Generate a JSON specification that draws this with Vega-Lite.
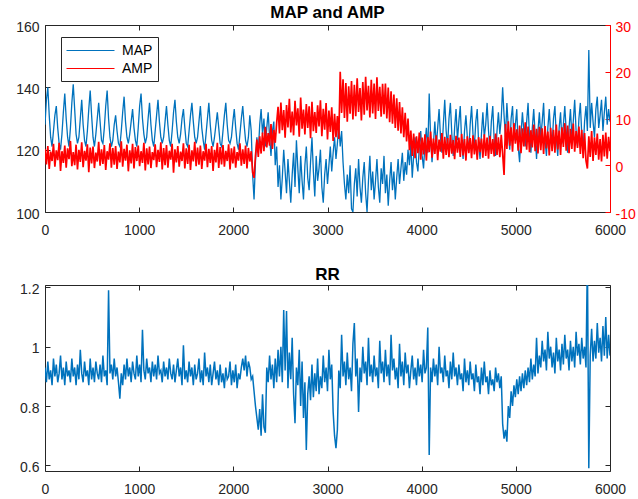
{
"$schema":"https://vega.github.io/schema/vega-lite/v6.json",
"padding":{"left":15,"top":4,"right":0,"bottom":0},
"spacing":73,
"bounds":"flush",
"datasets":{"d":[
{"t":0,"m":128,"a":3.5,"r":0.93},{"t":15,"m":136,"a":0.2,"r":0.88},{"t":30,"m":140,"a":4.1,"r":0.95},{"t":45,"m":131,"a":-0.8,"r":0.89},{"t":60,"m":124,"a":2.9,"r":0.92},{"t":75,"m":121,"a":0.9,"r":0.87},{"t":90,"m":126,"a":4.6,"r":0.96},{"t":105,"m":131,"a":-0.3,"r":0.90},{"t":120,"m":134,"a":3.2,"r":0.94},{"t":135,"m":127,"a":1.1,"r":0.88},
{"t":150,"m":122,"a":4.8,"r":0.91},{"t":165,"m":120,"a":-1.2,"r":0.97},{"t":180,"m":125,"a":3.0,"r":0.89},{"t":195,"m":132,"a":0.5,"r":0.93},{"t":210,"m":138,"a":4.2,"r":0.87},{"t":225,"m":130,"a":-0.5,"r":0.95},{"t":240,"m":124,"a":3.6,"r":0.90},{"t":255,"m":121,"a":1.3,"r":0.92},{"t":270,"m":127,"a":5.2,"r":0.88},{"t":285,"m":135,"a":-0.2,"r":0.96},
{"t":300,"m":141,"a":2.8,"r":0.90},{"t":315,"m":133,"a":0.0,"r":0.93},{"t":330,"m":125,"a":4.4,"r":0.87},{"t":345,"m":122,"a":-0.9,"r":0.94},{"t":360,"m":124,"a":3.3,"r":0.89},{"t":375,"m":130,"a":0.7,"r":0.99},{"t":390,"m":136,"a":4.9,"r":0.91},{"t":405,"m":128,"a":-0.4,"r":0.88},{"t":420,"m":123,"a":3.1,"r":0.95},{"t":435,"m":121,"a":1.0,"r":0.90},
{"t":450,"m":126,"a":4.5,"r":0.92},{"t":465,"m":133,"a":-1.5,"r":0.87},{"t":480,"m":139,"a":3.8,"r":0.96},{"t":495,"m":131,"a":0.4,"r":0.89},{"t":510,"m":124,"a":4.0,"r":0.93},{"t":525,"m":121,"a":-0.6,"r":0.88},{"t":540,"m":125,"a":2.7,"r":0.95},{"t":555,"m":130,"a":0.8,"r":0.91},{"t":570,"m":135,"a":5.0,"r":0.89},{"t":585,"m":129,"a":-0.1,"r":0.94},
{"t":600,"m":123,"a":3.4,"r":0.88},{"t":615,"m":122,"a":0.3,"r":0.97},{"t":630,"m":127,"a":4.3,"r":0.90},{"t":645,"m":134,"a":-1.0,"r":0.92},{"t":660,"m":139,"a":3.0,"r":0.87},{"t":675,"m":130,"a":1.2,"r":1.19},{"t":690,"m":124,"a":4.7,"r":0.91},{"t":705,"m":121,"a":-0.5,"r":0.94},{"t":720,"m":123,"a":3.7,"r":0.89},{"t":735,"m":128,"a":0.1,"r":0.96},
{"t":750,"m":131,"a":4.1,"r":0.90},{"t":765,"m":126,"a":-0.8,"r":0.93},{"t":780,"m":122,"a":2.9,"r":0.88},{"t":795,"m":121,"a":0.6,"r":0.825},{"t":810,"m":126,"a":5.1,"r":0.91},{"t":825,"m":132,"a":-0.3,"r":0.87},{"t":840,"m":137,"a":3.5,"r":0.94},{"t":855,"m":129,"a":1.0,"r":0.89},{"t":870,"m":124,"a":4.4,"r":0.96},{"t":885,"m":122,"a":-1.3,"r":0.90},
{"t":900,"m":125,"a":3.2,"r":0.93},{"t":915,"m":129,"a":0.4,"r":0.88},{"t":930,"m":133,"a":4.6,"r":0.95},{"t":945,"m":127,"a":-0.7,"r":0.91},{"t":960,"m":123,"a":3.9,"r":0.89},{"t":975,"m":121,"a":0.9,"r":0.97},{"t":990,"m":127,"a":4.2,"r":0.90},{"t":1005,"m":134,"a":-0.2,"r":0.94},{"t":1020,"m":138,"a":3.0,"r":0.88},{"t":1035,"m":130,"a":0.5,"r":1.057},
{"t":1050,"m":125,"a":4.8,"r":0.92},{"t":1065,"m":122,"a":-1.1,"r":0.89},{"t":1080,"m":124,"a":3.6,"r":0.96},{"t":1095,"m":130,"a":0.2,"r":0.91},{"t":1110,"m":135,"a":4.0,"r":0.93},{"t":1125,"m":128,"a":-0.6,"r":0.88},{"t":1140,"m":123,"a":2.8,"r":0.95},{"t":1155,"m":121,"a":1.1,"r":0.90},{"t":1170,"m":126,"a":4.5,"r":0.94},{"t":1185,"m":131,"a":-0.4,"r":0.89},
{"t":1200,"m":136,"a":3.3,"r":0.97},{"t":1215,"m":129,"a":0.7,"r":0.91},{"t":1230,"m":124,"a":4.9,"r":0.92},{"t":1245,"m":122,"a":-0.9,"r":0.88},{"t":1260,"m":124,"a":3.7,"r":0.95},{"t":1275,"m":129,"a":0.0,"r":0.90},{"t":1290,"m":134,"a":4.3,"r":0.93},{"t":1305,"m":128,"a":-0.5,"r":0.89},{"t":1320,"m":123,"a":3.1,"r":0.96},{"t":1335,"m":121,"a":1.2,"r":0.91},
{"t":1350,"m":126,"a":4.6,"r":0.89},{"t":1365,"m":132,"a":-1.6,"r":0.94},{"t":1380,"m":136,"a":3.4,"r":0.88},{"t":1395,"m":129,"a":0.6,"r":0.92},{"t":1410,"m":124,"a":4.1,"r":0.96},{"t":1425,"m":122,"a":-0.3,"r":0.90},{"t":1440,"m":125,"a":2.9,"r":0.93},{"t":1455,"m":130,"a":0.9,"r":0.87},{"t":1470,"m":133,"a":4.7,"r":1.005},{"t":1485,"m":127,"a":-0.7,"r":0.89},
{"t":1500,"m":122,"a":3.6,"r":0.92},{"t":1515,"m":121,"a":0.3,"r":0.88},{"t":1530,"m":126,"a":4.4,"r":0.95},{"t":1545,"m":131,"a":-1.0,"r":0.90},{"t":1560,"m":135,"a":3.2,"r":0.93},{"t":1575,"m":129,"a":0.8,"r":0.87},{"t":1590,"m":124,"a":5.0,"r":0.94},{"t":1605,"m":122,"a":-0.2,"r":0.89},{"t":1620,"m":124,"a":3.8,"r":0.91},{"t":1635,"m":129,"a":0.1,"r":0.96},
{"t":1650,"m":134,"a":4.2,"r":0.88},{"t":1665,"m":127,"a":-0.8,"r":0.92},{"t":1680,"m":123,"a":3.0,"r":0.87},{"t":1695,"m":120,"a":1.0,"r":0.98},{"t":1710,"m":125,"a":4.6,"r":0.90},{"t":1725,"m":130,"a":-0.4,"r":0.93},{"t":1740,"m":135,"a":3.5,"r":0.88},{"t":1755,"m":128,"a":0.5,"r":0.94},{"t":1770,"m":123,"a":4.1,"r":0.87},{"t":1785,"m":121,"a":-1.2,"r":0.91},
{"t":1800,"m":124,"a":3.3,"r":0.95},{"t":1815,"m":128,"a":0.6,"r":0.89},{"t":1830,"m":132,"a":4.8,"r":0.92},{"t":1845,"m":127,"a":-0.6,"r":0.87},{"t":1860,"m":122,"a":3.9,"r":0.94},{"t":1875,"m":121,"a":0.2,"r":0.88},{"t":1890,"m":126,"a":4.3,"r":0.91},{"t":1905,"m":131,"a":-0.3,"r":0.86},{"t":1920,"m":135,"a":3.1,"r":0.93},{"t":1935,"m":128,"a":0.9,"r":0.89},
{"t":1950,"m":123,"a":4.5,"r":0.90},{"t":1965,"m":122,"a":-0.9,"r":0.95},{"t":1980,"m":124,"a":3.6,"r":0.87},{"t":1995,"m":129,"a":0.4,"r":0.92},{"t":2010,"m":133,"a":4.0,"r":0.88},{"t":2025,"m":127,"a":-0.5,"r":0.94},{"t":2040,"m":122,"a":2.8,"r":0.86},{"t":2055,"m":120,"a":1.0,"r":0.91},{"t":2070,"m":125,"a":4.7,"r":0.89},{"t":2085,"m":130,"a":-0.1,"r":0.93},
{"t":2100,"m":134,"a":3.4,"r":0.96},{"t":2115,"m":128,"a":0.3,"r":0.92},{"t":2130,"m":123,"a":4.2,"r":0.97},{"t":2145,"m":121,"a":-0.7,"r":0.90},{"t":2160,"m":124,"a":3.7,"r":0.95},{"t":2175,"m":131,"a":0.8,"r":0.93},{"t":2190,"m":126,"a":3.0,"r":0.89},{"t":2205,"m":112,"a":-1.5,"r":0.90},{"t":2220,"m":104,"a":-2.7,"r":0.85},{"t":2235,"m":116,"a":2.0,"r":0.80},
{"t":2250,"m":124,"a":5.5,"r":0.76},{"t":2265,"m":119,"a":1.8,"r":0.72},{"t":2280,"m":128,"a":6.2,"r":0.79},{"t":2295,"m":133,"a":2.5,"r":0.70},{"t":2310,"m":125,"a":7.0,"r":0.84},{"t":2325,"m":130,"a":3.0,"r":0.73},{"t":2340,"m":121,"a":8.2,"r":0.71},{"t":2355,"m":127,"a":3.8,"r":0.93},{"t":2370,"m":132,"a":6.9,"r":0.88},{"t":2385,"m":124,"a":4.2,"r":0.97},
{"t":2400,"m":118,"a":8.8,"r":0.89},{"t":2415,"m":126,"a":3.5,"r":0.94},{"t":2430,"m":129,"a":7.6,"r":0.86},{"t":2445,"m":115,"a":4.8,"r":0.96},{"t":2460,"m":121,"a":9.0,"r":0.88},{"t":2475,"m":108,"a":12.5,"r":0.99},{"t":2490,"m":115,"a":6.8,"r":0.90},{"t":2505,"m":104,"a":13.4,"r":1.00},{"t":2520,"m":111,"a":7.5,"r":0.88},{"t":2535,"m":120,"a":11.8,"r":1.124},
{"t":2550,"m":113,"a":5.9,"r":0.92},{"t":2565,"m":106,"a":12.9,"r":1.12},{"t":2580,"m":117,"a":8.1,"r":0.86},{"t":2595,"m":110,"a":14.2,"r":0.98},{"t":2610,"m":103,"a":7.0,"r":0.89},{"t":2625,"m":112,"a":11.5,"r":1.03},{"t":2640,"m":119,"a":6.4,"r":0.84},{"t":2655,"m":108,"a":13.8,"r":0.742},{"t":2670,"m":123,"a":8.5,"r":0.93},{"t":2685,"m":114,"a":12.2,"r":0.87},
{"t":2700,"m":106,"a":6.1,"r":0.99},{"t":2715,"m":118,"a":14.5,"r":0.80},{"t":2730,"m":110,"a":7.8,"r":0.95},{"t":2745,"m":104,"a":11.9,"r":0.76},{"t":2760,"m":115,"a":6.6,"r":0.88},{"t":2775,"m":121,"a":13.1,"r":0.652},{"t":2790,"m":111,"a":8.0,"r":0.84},{"t":2805,"m":107,"a":12.6,"r":0.90},{"t":2820,"m":116,"a":5.8,"r":0.82},{"t":2835,"m":124,"a":13.6,"r":0.94},
{"t":2850,"m":113,"a":7.3,"r":0.83},{"t":2865,"m":105,"a":11.4,"r":0.91},{"t":2880,"m":118,"a":6.9,"r":0.85},{"t":2895,"m":110,"a":12.8,"r":0.96},{"t":2910,"m":114,"a":8.3,"r":0.84},{"t":2925,"m":120,"a":13.9,"r":0.90},{"t":2940,"m":108,"a":6.2,"r":0.86},{"t":2955,"m":103,"a":12.1,"r":0.97},{"t":2970,"m":112,"a":7.6,"r":0.88},{"t":2985,"m":117,"a":13.3,"r":0.93},
{"t":3000,"m":109,"a":5.5,"r":0.85},{"t":3015,"m":115,"a":11.7,"r":0.99},{"t":3030,"m":121,"a":7.1,"r":0.89},{"t":3045,"m":113,"a":12.4,"r":0.94},{"t":3060,"m":119,"a":5.2,"r":0.78},{"t":3075,"m":124,"a":11.0,"r":0.70},{"t":3090,"m":117,"a":6.0,"r":0.658},{"t":3105,"m":122,"a":10.5,"r":0.72},{"t":3120,"m":128,"a":5.6,"r":0.92},{"t":3135,"m":121,"a":20.0,"r":0.86},
{"t":3150,"m":126,"a":11.2,"r":1.04},{"t":3165,"m":116,"a":18.4,"r":0.90},{"t":3180,"m":109,"a":10.1,"r":0.95},{"t":3195,"m":104,"a":17.6,"r":0.87},{"t":3210,"m":112,"a":9.3,"r":0.98},{"t":3225,"m":106,"a":16.9,"r":0.89},{"t":3240,"m":115,"a":11.0,"r":0.93},{"t":3255,"m":101,"a":18.0,"r":0.85},{"t":3270,"m":100,"a":9.8,"r":1.01},{"t":3285,"m":109,"a":17.2,"r":1.08},
{"t":3300,"m":114,"a":10.5,"r":0.90},{"t":3315,"m":105,"a":18.6,"r":0.96},{"t":3330,"m":117,"a":11.4,"r":0.78},{"t":3345,"m":108,"a":16.5,"r":0.93},{"t":3360,"m":103,"a":9.6,"r":0.88},{"t":3375,"m":111,"a":17.8,"r":1.00},{"t":3390,"m":116,"a":10.8,"r":0.91},{"t":3405,"m":106,"a":18.9,"r":0.95},{"t":3420,"m":100,"a":11.7,"r":0.87},{"t":3435,"m":110,"a":17.0,"r":1.03},
{"t":3450,"m":118,"a":10.2,"r":0.90},{"t":3465,"m":107,"a":18.3,"r":0.94},{"t":3480,"m":113,"a":11.1,"r":0.88},{"t":3495,"m":104,"a":17.5,"r":0.97},{"t":3510,"m":110,"a":9.9,"r":0.90},{"t":3525,"m":117,"a":18.8,"r":0.93},{"t":3540,"m":108,"a":11.6,"r":0.86},{"t":3555,"m":103,"a":16.8,"r":1.02},{"t":3570,"m":114,"a":10.4,"r":0.91},{"t":3585,"m":109,"a":17.4,"r":0.95},
{"t":3600,"m":118,"a":10.9,"r":0.88},{"t":3615,"m":106,"a":17.5,"r":0.99},{"t":3630,"m":112,"a":10.0,"r":0.90},{"t":3645,"m":102,"a":16.6,"r":0.94},{"t":3660,"m":110,"a":9.2,"r":0.87},{"t":3675,"m":116,"a":15.8,"r":1.04},{"t":3690,"m":107,"a":8.9,"r":0.92},{"t":3705,"m":113,"a":15.1,"r":0.96},{"t":3720,"m":104,"a":8.0,"r":0.89},{"t":3735,"m":111,"a":14.3,"r":0.93},
{"t":3750,"m":117,"a":7.4,"r":0.86},{"t":3765,"m":109,"a":13.5,"r":1.01},{"t":3780,"m":114,"a":6.8,"r":0.90},{"t":3795,"m":119,"a":12.4,"r":0.95},{"t":3810,"m":110,"a":6.0,"r":0.87},{"t":3825,"m":116,"a":11.2,"r":0.98},{"t":3840,"m":112,"a":5.1,"r":0.91},{"t":3855,"m":120,"a":10.0,"r":0.94},{"t":3870,"m":115,"a":3.2,"r":0.86},{"t":3885,"m":122,"a":7.4,"r":0.92},
{"t":3900,"m":111,"a":2.0,"r":0.97},{"t":3915,"m":118,"a":6.8,"r":0.89},{"t":3930,"m":124,"a":1.5,"r":0.93},{"t":3945,"m":116,"a":6.2,"r":0.87},{"t":3960,"m":113,"a":2.6,"r":0.96},{"t":3975,"m":121,"a":7.0,"r":0.90},{"t":3990,"m":126,"a":1.2,"r":0.94},{"t":4005,"m":118,"a":5.9,"r":0.88},{"t":4020,"m":114,"a":2.3,"r":0.99},{"t":4035,"m":122,"a":6.6,"r":0.91},
{"t":4050,"m":127,"a":1.0,"r":0.93},{"t":4065,"m":119,"a":6.0,"r":1.065},{"t":4080,"m":138,"a":2.8,"r":0.635},{"t":4095,"m":124,"a":7.2,"r":0.93},{"t":4110,"m":116,"a":1.6,"r":0.88},{"t":4125,"m":122,"a":5.7,"r":0.96},{"t":4140,"m":129,"a":2.4,"r":0.90},{"t":4155,"m":121,"a":6.4,"r":0.94},{"t":4170,"m":127,"a":1.1,"r":0.87},{"t":4185,"m":133,"a":5.5,"r":1.00},
{"t":4200,"m":124,"a":2.9,"r":0.91},{"t":4215,"m":119,"a":6.9,"r":0.93},{"t":4230,"m":128,"a":1.4,"r":0.88},{"t":4245,"m":136,"a":6.1,"r":0.97},{"t":4260,"m":126,"a":2.2,"r":0.90},{"t":4275,"m":121,"a":5.8,"r":0.92},{"t":4290,"m":130,"a":1.7,"r":0.86},{"t":4305,"m":135,"a":6.5,"r":0.95},{"t":4320,"m":125,"a":2.5,"r":0.89},{"t":4335,"m":118,"a":5.4,"r":0.98},
{"t":4350,"m":127,"a":1.3,"r":0.90},{"t":4365,"m":133,"a":6.3,"r":0.93},{"t":4380,"m":123,"a":2.7,"r":0.87},{"t":4395,"m":129,"a":5.9,"r":0.94},{"t":4410,"m":134,"a":1.8,"r":0.89},{"t":4425,"m":122,"a":6.7,"r":0.91},{"t":4440,"m":117,"a":2.1,"r":0.85},{"t":4455,"m":126,"a":5.6,"r":0.96},{"t":4470,"m":131,"a":1.0,"r":0.88},{"t":4485,"m":124,"a":6.2,"r":0.92},
{"t":4500,"m":119,"a":2.6,"r":0.87},{"t":4515,"m":128,"a":5.8,"r":0.95},{"t":4530,"m":134,"a":1.5,"r":0.89},{"t":4545,"m":125,"a":6.4,"r":0.91},{"t":4560,"m":121,"a":2.3,"r":0.85},{"t":4575,"m":129,"a":5.5,"r":0.94},{"t":4590,"m":133,"a":1.2,"r":0.88},{"t":4605,"m":122,"a":6.0,"r":0.90},{"t":4620,"m":117,"a":2.8,"r":0.84},{"t":4635,"m":125,"a":5.7,"r":0.93},
{"t":4650,"m":132,"a":1.6,"r":0.87},{"t":4665,"m":124,"a":6.6,"r":0.95},{"t":4680,"m":128,"a":2.0,"r":0.88},{"t":4695,"m":135,"a":5.9,"r":0.90},{"t":4710,"m":126,"a":1.4,"r":0.84},{"t":4725,"m":120,"a":6.3,"r":0.92},{"t":4740,"m":129,"a":2.4,"r":0.87},{"t":4755,"m":134,"a":5.6,"r":0.89},{"t":4770,"m":123,"a":1.9,"r":0.85},{"t":4785,"m":118,"a":6.8,"r":0.93},
{"t":4800,"m":126,"a":2.2,"r":0.88},{"t":4815,"m":132,"a":6.0,"r":0.91},{"t":4830,"m":125,"a":1.7,"r":0.86},{"t":4845,"m":130,"a":6.5,"r":0.90},{"t":4860,"m":140,"a":2.5,"r":0.74},{"t":4875,"m":131,"a":-2.1,"r":0.69},{"t":4890,"m":124,"a":8.8,"r":0.72},{"t":4905,"m":135,"a":3.5,"r":0.68},{"t":4920,"m":127,"a":9.4,"r":0.80},{"t":4935,"m":120,"a":4.2,"r":0.76},
{"t":4950,"m":130,"a":8.1,"r":0.85},{"t":4965,"m":134,"a":2.9,"r":0.80},{"t":4980,"m":123,"a":9.0,"r":0.87},{"t":4995,"m":128,"a":4.6,"r":0.83},{"t":5010,"m":133,"a":7.7,"r":0.89},{"t":5025,"m":121,"a":3.1,"r":0.84},{"t":5040,"m":116,"a":8.5,"r":0.90},{"t":5055,"m":125,"a":2.6,"r":0.85},{"t":5070,"m":132,"a":7.9,"r":0.91},{"t":5085,"m":126,"a":4.0,"r":0.86},
{"t":5100,"m":121,"a":9.2,"r":0.92},{"t":5115,"m":129,"a":3.3,"r":0.87},{"t":5130,"m":135,"a":8.3,"r":0.93},{"t":5145,"m":124,"a":2.8,"r":0.88},{"t":5160,"m":119,"a":7.5,"r":0.96},{"t":5175,"m":127,"a":3.8,"r":0.89},{"t":5190,"m":133,"a":8.7,"r":0.94},{"t":5205,"m":125,"a":3.0,"r":0.90},{"t":5220,"m":117,"a":7.8,"r":1.03},{"t":5235,"m":126,"a":2.5,"r":0.91},
{"t":5250,"m":132,"a":8.2,"r":0.97},{"t":5265,"m":124,"a":3.2,"r":0.93},{"t":5280,"m":129,"a":7.9,"r":1.02},{"t":5295,"m":135,"a":2.4,"r":0.95},{"t":5310,"m":123,"a":8.4,"r":0.99},{"t":5325,"m":118,"a":3.6,"r":0.92},{"t":5340,"m":127,"a":7.2,"r":1.05},{"t":5355,"m":133,"a":2.1,"r":0.96},{"t":5370,"m":125,"a":8.0,"r":1.00},{"t":5385,"m":121,"a":3.0,"r":0.93},
{"t":5400,"m":130,"a":7.6,"r":0.98},{"t":5415,"m":134,"a":2.7,"r":0.91},{"t":5430,"m":124,"a":8.7,"r":1.03},{"t":5445,"m":118,"a":3.4,"r":0.95},{"t":5460,"m":127,"a":7.4,"r":0.99},{"t":5475,"m":132,"a":2.2,"r":0.92},{"t":5490,"m":122,"a":8.1,"r":1.01},{"t":5505,"m":128,"a":3.9,"r":0.94},{"t":5520,"m":134,"a":9.0,"r":1.04},{"t":5535,"m":126,"a":3.1,"r":0.96},
{"t":5550,"m":119,"a":8.5,"r":0.99},{"t":5565,"m":127,"a":2.6,"r":0.92},{"t":5580,"m":133,"a":7.8,"r":1.02},{"t":5595,"m":124,"a":3.5,"r":0.95},{"t":5610,"m":129,"a":8.9,"r":1.00},{"t":5625,"m":136,"a":2.9,"r":0.93},{"t":5640,"m":126,"a":7.3,"r":1.05},{"t":5655,"m":121,"a":3.7,"r":0.97},{"t":5670,"m":130,"a":8.3,"r":1.01},{"t":5685,"m":135,"a":2.4,"r":0.94},
{"t":5700,"m":125,"a":7.6,"r":1.03},{"t":5715,"m":120,"a":1.5,"r":0.96},{"t":5730,"m":129,"a":6.9,"r":1.00},{"t":5745,"m":134,"a":1.0,"r":0.93},{"t":5760,"m":126,"a":-0.7,"r":1.3},{"t":5775,"m":152,"a":6.2,"r":0.59},{"t":5790,"m":127,"a":1.8,"r":0.97},{"t":5805,"m":135,"a":7.3,"r":1.06},{"t":5820,"m":129,"a":0.9,"r":0.95},{"t":5835,"m":124,"a":6.0,"r":1.02},
{"t":5850,"m":133,"a":2.2,"r":0.96},{"t":5865,"m":137,"a":6.8,"r":1.08},{"t":5880,"m":127,"a":1.2,"r":0.98},{"t":5895,"m":131,"a":5.6,"r":1.03},{"t":5910,"m":136,"a":0.8,"r":0.95},{"t":5925,"m":126,"a":6.5,"r":1.07},{"t":5940,"m":132,"a":1.9,"r":0.97},{"t":5955,"m":137,"a":7.0,"r":1.10},{"t":5970,"m":128,"a":1.4,"r":0.96},{"t":5985,"m":133,"a":6.1,"r":1.04},
{"t":6000,"m":129,"a":3.0,"r":0.97}
]},
"data":{"name":"d"},
"vconcat":[
{
"width":565,"height":187,
"title":{"text":"MAP and AMP"},
"layer":[
{"transform":[{"fold":["m"],"as":["k","v"]}],
"mark":{"type":"line","strokeWidth":1.3,"clip":true},
"encoding":{
"x":{"field":"t","type":"quantitative","scale":{"domain":[0,6000],"nice":false},"axis":{"orient":"bottom","values":[0,1000,2000,3000,4000,5000,6000],"format":"d","title":null}},
"y":{"field":"v","type":"quantitative","scale":{"domain":[100,160],"nice":false,"zero":false},"axis":{"orient":"left","values":[100,120,140,160],"format":"d","title":null}},
"color":{"field":"k","type":"nominal","scale":{"domain":["m","a"],"range":["#0072BD","#FF0000"]},
"legend":{"title":null,"orient":"none","legendX":16,"legendY":12,"symbolType":"M-1,0H5","symbolSize":256,"symbolStrokeWidth":1,"labelFont":"Liberation Sans","labelFontSize":14,"labelColor":"#000000","labelOffset":39,"padding":5,"rowPadding":2,"strokeColor":"#262626","fillColor":"#FFFFFF","cornerRadius":0,"labelExpr":"datum.value == 'm' ? 'MAP' : 'AMP'"}}
}},
{"transform":[{"fold":["a"],"as":["k","v"]}],
"mark":{"type":"line","strokeWidth":1.7,"clip":true},
"encoding":{
"x":{"field":"t","type":"quantitative","axis":{"orient":"top","values":[0,1000,2000,3000,4000,5000,6000],"labels":false,"title":null}},
"y":{"field":"v","type":"quantitative","scale":{"domain":[-10,30],"nice":false,"zero":false},"axis":{"orient":"right","values":[-10,0,10,20,30],"labelExpr":"datum.value < 0 ? '-' + abs(datum.value) : '' + datum.value","labelPadding":10,"title":null,"domainColor":"#FF0000","tickColor":"#FF0000","labelColor":"#FF0000"}},
"color":{"field":"k","type":"nominal"}
}}
],
"resolve":{"scale":{"y":"independent"},"axis":{"x":"independent","y":"independent"}}
},
{
"width":565,"height":186,
"title":{"text":"RR"},
"layer":[
{"mark":{"type":"line","strokeWidth":1.5,"clip":true,"color":"#0072BD"},
"encoding":{
"x":{"field":"t","type":"quantitative","scale":{"domain":[0,6000],"nice":false},"axis":{"orient":"bottom","values":[0,1000,2000,3000,4000,5000,6000],"format":"d","title":null}},
"y":{"field":"r","type":"quantitative","scale":{"domain":[0.581,1.208],"nice":false,"zero":false},"axis":{"orient":"left","values":[0.6,0.8,1,1.2],"format":"~g","title":null}}
}},
{"mark":{"type":"line","opacity":0,"clip":true},
"encoding":{
"x":{"field":"t","type":"quantitative","axis":{"orient":"top","values":[0,1000,2000,3000,4000,5000,6000],"labels":false,"title":null}},
"y":{"field":"r","type":"quantitative","axis":{"orient":"right","values":[0.6,0.8,1,1.2],"labels":false,"title":null}}
}}
],
"resolve":{"axis":{"x":"independent","y":"independent"}}
}
],
"config":{
"view":{"stroke":null},
"font":"Liberation Sans",
"axis":{"grid":false,"domainColor":"#262626","domainWidth":1,"tickColor":"#262626","tickWidth":1,"tickSize":-5,"labelColor":"#262626","labelFont":"Liberation Sans","labelFontSize":14,"labelFlush":false,"labelOverlap":false},
"axisX":{"labelPadding":16},
"axisY":{"labelPadding":11,"labelOffset":2},
"title":{"font":"Liberation Sans","fontSize":17,"fontWeight":"bold","color":"#000000","offset":-2}
}
}
